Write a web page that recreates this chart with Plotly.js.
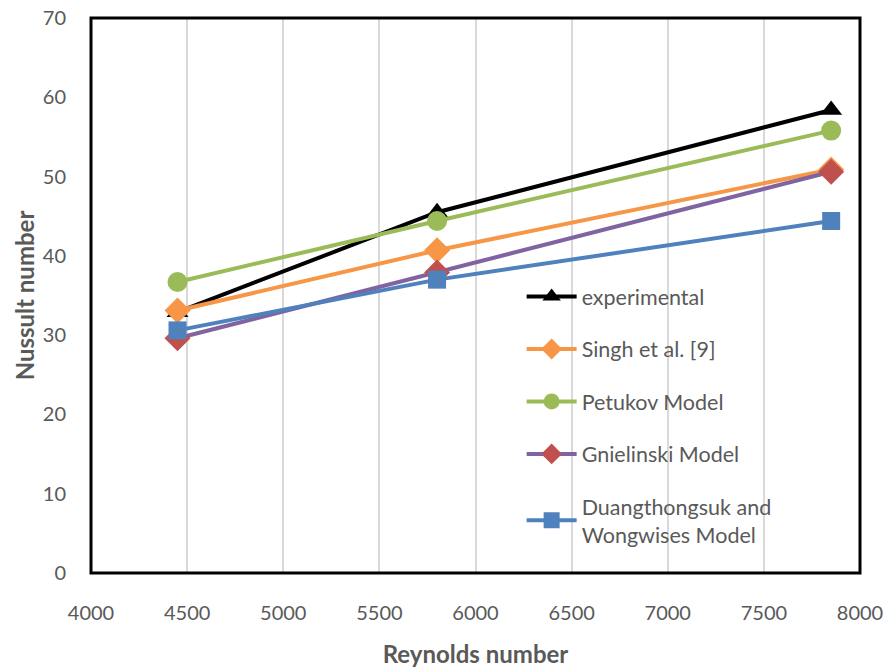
<!DOCTYPE html>
<html>
<head>
<meta charset="utf-8">
<script src="https://cdn.plot.ly/plotly-3.0.1.min.js"></script>
<style>html,body{margin:0;padding:0;background:#fff;}#chart{width:885px;height:668px;}</style>
</head>
<body>
<div id="chart"></div>
<script>
const reynolds = [4450, 5800, 7850];
const experimental = [32.9, 45.5, 58.4];
const singh = [33.1, 40.7, 50.9];
const petukhov = [36.7, 44.4, 55.8];
const gnielinski = [29.6, 37.9, 50.6];
const duangthongsuk = [30.6, 37.0, 44.4];
const seriesNames = ["experimental", "Singh et al. [9]", "Petukov Model", "Gnielinski Model", "Duangthongsuk and<br>Wongwises Model"];
const xTicks = [4000, 4500, 5000, 5500, 6000, 6500, 7000, 7500, 8000];
const yTicks = [0, 10, 20, 30, 40, 50, 60, 70];

const font = "Lato, 'Open Sans', sans-serif";
function tr(y, name, lineColor, sym, mColor, size, g) {
  return {x: reynolds, y: y, name: name, type: 'scatter', mode: 'lines+markers',
    legendgroup: g,
    line: {color: lineColor, width: 4},
    marker: {symbol: sym, color: mColor, size: size, line: {width: 0}}};
}
const data = [
  tr(experimental, seriesNames[0], '#000000', 'triangle-up', '#000000', 19, 'a'),
  tr(singh, seriesNames[1], '#F79646', 'diamond', '#F79646', 20, 'b'),
  tr(petukhov, seriesNames[2], '#9BBB59', 'circle', '#9BBB59', 20, 'c'),
  tr(gnielinski, seriesNames[3], '#8064A2', 'diamond', '#C0504D', 20, 'd'),
  tr(duangthongsuk, seriesNames[4], '#4F81BD', 'square', '#4F81BD', 18, 'e')
];
const layout = {
  width: 885, height: 668,
  margin: {l: 91, r: 25, t: 18, b: 95},
  paper_bgcolor: '#fff', plot_bgcolor: '#fff',
  font: {family: font, color: '#595959', size: 20},
  showlegend: true,
  legend: {x: 0.56, y: 0.535, xanchor: 'left', yanchor: 'top', bgcolor: 'rgba(0,0,0,0)',
    font: {size: 21.5, color: '#595959', family: font}, tracegroupgap: 21.5, traceorder: 'grouped', itemwidth: 50},
  xaxis: {range: [4000, 8000], tickvals: xTicks, ticktext: xTicks.map(String), showgrid: true, gridcolor: '#d9d9d9', gridwidth: 1.5,
    zeroline: false, showline: false, ticks: 'outside', ticklen: 22, tickcolor: 'rgba(0,0,0,0)', tickfont: {size: 20, color: '#595959'},
    title: {text: '<b>Reynolds number</b>', font: {size: 24, color: '#595959'}, standoff: 28}},
  yaxis: {range: [0, 70], tickvals: yTicks, ticktext: yTicks.map(String), showgrid: false,
    zeroline: false, showline: false, ticks: 'outside', ticklen: 20, tickcolor: 'rgba(0,0,0,0)', tickfont: {size: 20, color: '#595959'},
    title: {text: '<b>Nussult number</b>', font: {size: 24, color: '#595959'}, standoff: 1}},
  shapes: [{type: 'rect', xref: 'paper', yref: 'paper', x0: 0, x1: 1, y0: 0, y1: 1, line: {color: '#000', width: 3}, layer: 'above'}]
};
Plotly.newPlot('chart', data, layout, {displayModeBar: false});
</script>
</body>
</html>
